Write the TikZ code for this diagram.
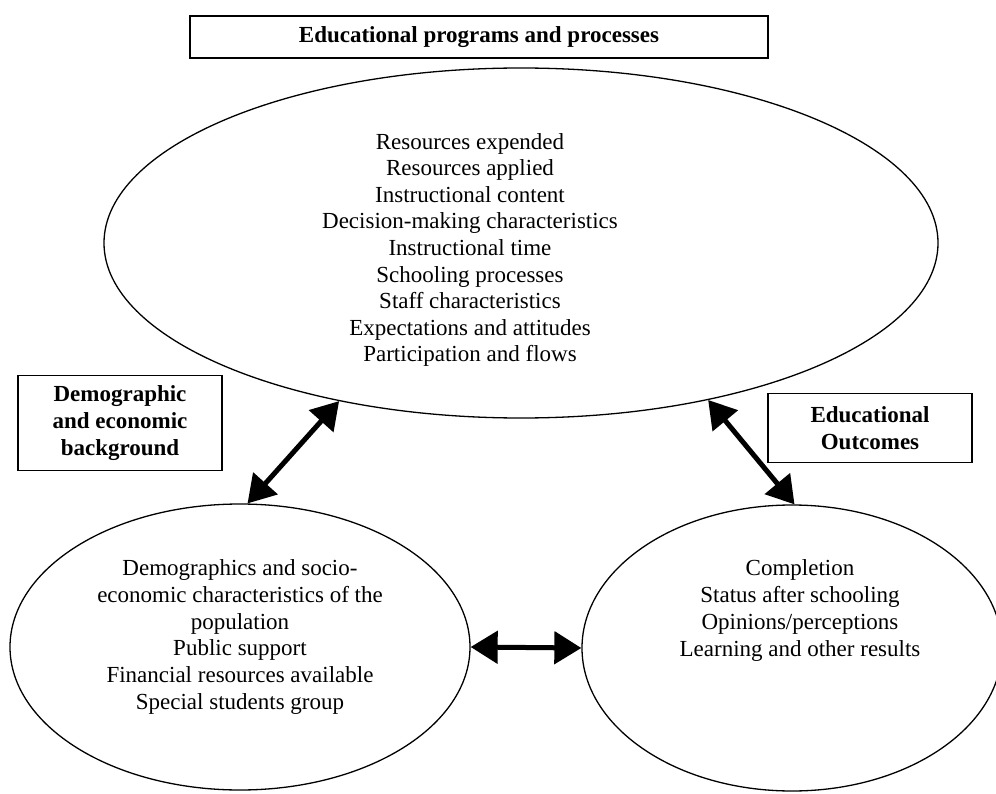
\documentclass[tikz,border=0pt]{standalone}
\usepackage{fontspec}
\setmainfont{Liberation Serif}
\usetikzlibrary{shapes.geometric}
\usetikzlibrary{arrows.meta}

\begin{document}
\begin{tikzpicture}[x = 1pt, y = -1pt,
    font = \fontsize{23}{26.6}\selectfont,
    oval/.style = {draw, ellipse, line width = 1.3pt, inner sep = 0pt},
    label box/.style = {draw, line width = 1.3pt, align = center, font = \fontsize{23}{27}\selectfont\bfseries},
    link/.style = {line width = 5pt, {Triangle[length = 27pt, width = 32pt]}-{Triangle[length = 27pt, width = 32pt]}}]
    \useasboundingbox (0,0) rectangle (996,794);

    % the three ellipses
    \node[oval, minimum width = 834pt, minimum height = 350pt] (progs) at (521,243) {};
    \node[oval, minimum width = 460pt, minimum height = 286pt] (backgr) at (240,647) {};
    \node[oval, minimum width = 420pt, minimum height = 286pt] (outcomes) at (792,648) {};

    % their contents
    \node[align = center] (progstext) at (470,250) {Resources expended\\Resources applied\\Instructional content\\Decision-making characteristics\\Instructional time\\Schooling processes\\Staff characteristics\\Expectations and attitudes\\Participation and flows};
    \node[align = center, font = \fontsize{23}{26.8}\selectfont] (backgrtext) at (240,637) {Demographics and socio-\\economic characteristics of the\\population\\Public support\\Financial resources available\\Special students group};
    \node[align = center, font = \fontsize{23}{27}\selectfont] (outcomestext) at (800,610) {Completion\\Status after schooling\\Opinions/perceptions\\Learning and other results};

    % headings
    \node[label box, minimum width = 578pt, minimum height = 42pt] (progbox) at (479,37) {Educational programs and processes};
    \node[label box, minimum width = 204pt, minimum height = 95pt] (backbox) at (120,423) {Demographic\\and economic\\background};
    \node[label box, minimum width = 204pt, minimum height = 69pt] (outbox) at (870,428) {Educational\\Outcomes};

    % links
    \draw[link] (progs.221) -- (backgr.87);
    \draw[link] (progs.320) -- (outcomes.89);
    \draw[link] (backgr.0) -- (outcomes.180);

\end{tikzpicture}
\end{document}
